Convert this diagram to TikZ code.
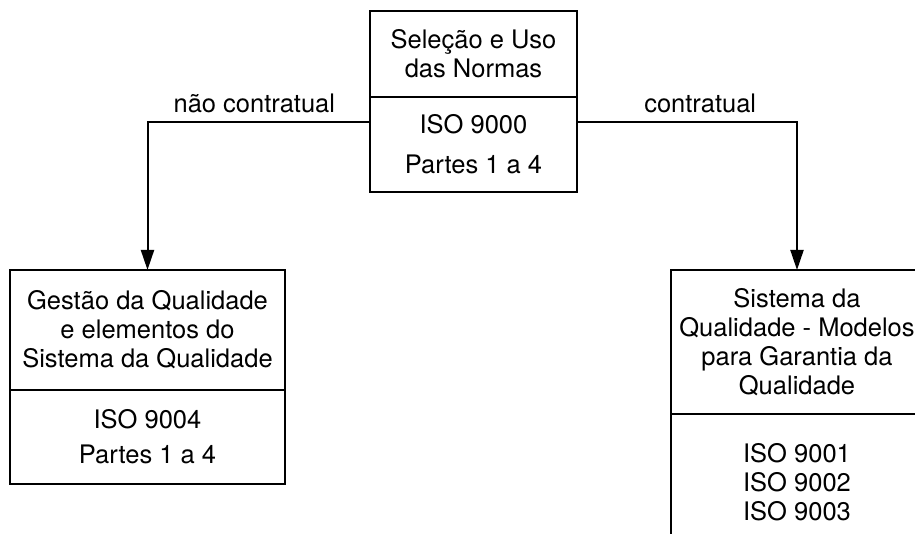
\documentclass[tikz,border=0pt]{standalone}
\usepackage{fontspec}
\setmainfont{TeX Gyre Heros}
\usetikzlibrary{arrows.meta}

\begin{document}
\begin{tikzpicture}[x=0.5pt,y=-0.5pt,
  part/.style={draw,line width=1pt,align=center,inner sep=0pt,outer sep=0pt,
    font=\fontsize{12.75}{14.5}\selectfont},
  flow/.style={line width=1pt,-{Triangle[length=10pt,width=6.5pt]}},
  lbl/.style={above,inner sep=4pt,font=\fontsize{12.75}{14.5}\selectfont}]
\useasboundingbox (0,0) rectangle (915,534);

% selecao e uso
\node[part,minimum width=103.5pt,minimum height=43pt] (seltop) at (473.5,54) {Seleção e Uso\\das Normas};
\node[part,minimum width=103.5pt,minimum height=47.5pt,anchor=north] (selbot) at (seltop.south) {ISO 9000\\[5.5pt]Partes 1 a 4};

% gestao da qualidade
\node[part,minimum width=137.5pt,minimum height=60pt] (gesttop) at (147.5,330) {Gestão da Qualidade\\e elementos do\\Sistema da Qualidade};
\node[part,minimum width=137.5pt,minimum height=47pt,anchor=north] (gestbot) at (gesttop.south) {ISO 9004\\[3pt]Partes 1 a 4};

% modelos para garantia
\node[part,minimum width=126pt,minimum height=72pt] (modtop) at (797,342) {Sistema da\\Qualidade - Modelos\\para Garantia da\\Qualidade};
\node[part,minimum width=126pt,minimum height=68pt,anchor=north] (modbot) at (modtop.south) {ISO 9001\\ISO 9002\\ISO 9003};

\draw[flow] ([yshift=11.25pt]selbot.west) -| (gesttop.north) node[lbl,pos=0.26] {não contratual};
\draw[flow] ([yshift=11.25pt]selbot.east) -| (modtop.north) node[lbl,pos=0.28] {contratual};
\end{tikzpicture}
\end{document}
